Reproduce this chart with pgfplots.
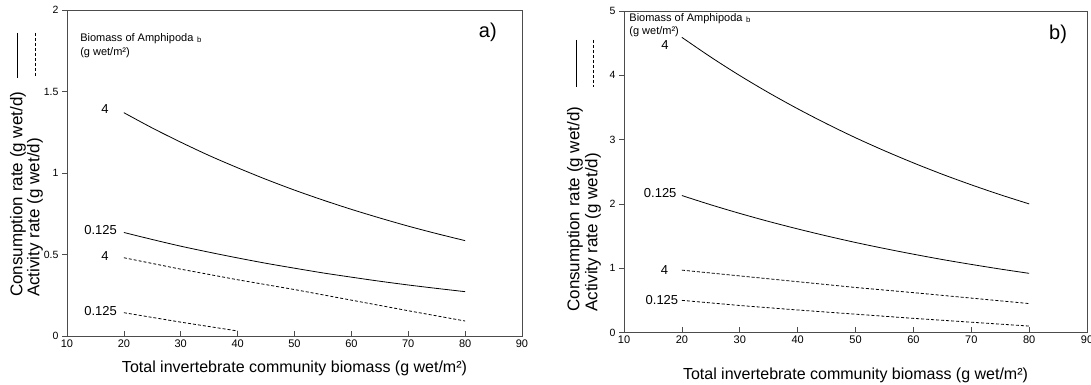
\documentclass[border=0pt]{standalone}
\usepackage{fontspec}
\setmainfont{Liberation Sans}
\usepackage{pgfplots}
\pgfplotsset{compat=1.18}
\pgfplotsset{myax/.style={
  scale only axis, clip=false,
  xmin=10, xmax=90, xtick={10,20,...,90},
  xtick pos=bottom, ytick pos=left,
  xtick align=inside, ytick align=outside,
  major tick length=5pt,
  axis line style={black!70, line width=0.8pt},
  tick style={black!70, line width=0.6pt},
  xticklabel style={font=\fontsize{11}{13}\selectfont},
  yticklabel style={font=\fontsize{10.5}{12}\selectfont},
  /pgf/number format/assume math mode=true,
  xlabel style={font=\fontsize{16}{19}\selectfont, anchor=center},
}}
\tikzset{
  sol/.style={black, line width=0.8pt, smooth, mark=none},
  dsh/.style={black, line width=0.8pt, mark=none, dash pattern=on 3pt off 2pt},
  curvelab/.style={font=\fontsize{13}{15}\selectfont, inner sep=0pt},
  ylab/.style={font=\fontsize{17}{20}\selectfont, rotate=90, anchor=west, inner sep=0pt},
}
\begin{document}
\begin{tikzpicture}
\useasboundingbox (0pt,0pt) rectangle (1091pt,385pt);

% ---------------- panel a ----------------
\begin{axis}[myax, at={(67pt,49pt)}, anchor=south west, width=455pt, height=326pt,
  ymin=0, ymax=2, ytick={0,0.5,1,1.5,2},
  xlabel={Total invertebrate community biomass (g wet/m²)},
  xlabel style={at={(axis description cs:0.5,-0.098)}}]
\addplot[sol] coordinates {(20,1.370)(25,1.276)(30,1.189)(35,1.107)(40,1.032)(45,0.961)(50,0.895)(55,0.834)(60,0.777)(65,0.724)(70,0.674)(75,0.628)(80,0.585)};
\addplot[sol] coordinates {(20,0.635)(25,0.592)(30,0.551)(35,0.514)(40,0.479)(45,0.446)(50,0.416)(55,0.387)(60,0.361)(65,0.336)(70,0.313)(75,0.292)(80,0.272)};
\addplot[dsh] coordinates {(20,0.48)(30,0.41)(40,0.345)(50,0.285)(60,0.22)(70,0.155)(80,0.092)};
\addplot[dsh] coordinates {(20,0.143)(30,0.085)(40,0.031)};
\node[curvelab] at (axis cs:16.7,1.39) {4};
\node[curvelab, anchor=east] at (axis cs:18.8,0.649) {0.125};
\node[curvelab] at (axis cs:16.7,0.49) {4};
\node[curvelab, anchor=east] at (axis cs:18.8,0.153) {0.125};
\node[anchor=north west, inner sep=0pt, align=left, font=\fontsize{11}{14}\selectfont]
  at (axis cs:12.3,1.859) {Biomass of Amphipoda\,\,\textsubscript{b}\\(g wet/m²)};
\node[font=\fontsize{20}{24}\selectfont] at (axis cs:84,1.865) {a)};
\node[ylab] at (axis cs:1.39,0.239) {Consumption rate (g wet/d)};
\node[ylab] at (axis cs:4.37,0.239) {Activity rate (g wet/d)};
\draw[black, line width=0.8pt] (axis cs:1.21,1.859) -- (axis cs:1.21,1.583);
\draw[black, line width=0.8pt, dash pattern=on 3pt off 2pt] (axis cs:4.37,1.859) -- (axis cs:4.37,1.583);
\end{axis}

% ---------------- panel b ----------------
\begin{axis}[myax, at={(624pt,52.5pt)}, anchor=south west, width=463pt, height=321.5pt,
  ymin=0, ymax=5, ytick={0,1,2,3,4,5},
  xlabel={Total invertebrate community biomass (g wet/m²)},
  xlabel style={at={(axis description cs:0.5,-0.133)}}]
\addplot[sol] coordinates {(20,4.590)(25,4.283)(30,3.996)(35,3.729)(40,3.480)(45,3.247)(50,3.029)(55,2.827)(60,2.638)(65,2.461)(70,2.297)(75,2.143)(80,2.000)};
\addplot[sol] coordinates {(20,2.130)(25,1.986)(30,1.852)(35,1.727)(40,1.611)(45,1.502)(50,1.400)(55,1.306)(60,1.218)(65,1.135)(70,1.059)(75,0.987)(80,0.920)};
\addplot[dsh] coordinates {(20,0.97)(30,0.88)(40,0.79)(50,0.70)(60,0.62)(70,0.535)(80,0.45)};
\addplot[dsh] coordinates {(20,0.50)(30,0.42)(40,0.35)(50,0.285)(60,0.22)(70,0.16)(80,0.10)};
\node[curvelab] at (axis cs:17.1,4.47) {4};
\node[curvelab, anchor=east] at (axis cs:19.1,2.17) {0.125};
\node[curvelab] at (axis cs:17.0,0.97) {4};
\node[curvelab, anchor=east] at (axis cs:19.4,0.51) {0.125};
\node[anchor=north west, inner sep=0pt, align=left, font=\fontsize{11}{13}\selectfont]
  at (axis cs:10.9,4.97) {Biomass of Amphipoda\,\,\textsubscript{b}\\(g wet/m²)};
\node[font=\fontsize{20}{24}\selectfont] at (axis cs:85,4.63) {b)};
\node[ylab] at (axis cs:1.53,0.32) {Consumption rate (g wet/d)};
\node[ylab] at (axis cs:4.64,0.32) {Activity rate (g wet/d)};
\draw[black, line width=0.8pt] (axis cs:1.71,4.55) -- (axis cs:1.71,3.82);
\draw[black, line width=0.8pt, dash pattern=on 3pt off 2pt] (axis cs:4.64,4.55) -- (axis cs:4.64,3.82);
\end{axis}
\end{tikzpicture}
\end{document}
